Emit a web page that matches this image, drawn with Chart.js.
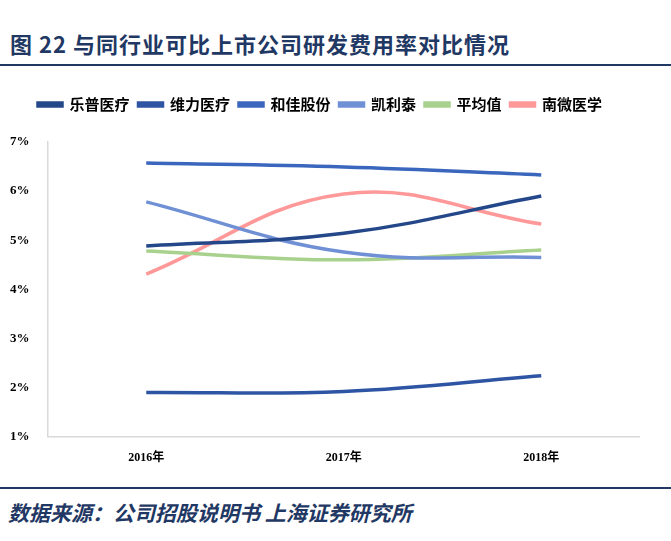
<!DOCTYPE html>
<html><head><meta charset="utf-8">
<script src="https://cdn.jsdelivr.net/npm/chart.js@4"></script>
<style>
body{margin:0;width:671px;height:541px;background:#fff;font-family:"Noto Sans CJK SC",sans-serif;overflow:hidden}
#title{position:absolute;left:10px;top:27px;font-size:22px;font-weight:bold;color:#1F3864;letter-spacing:1px}
#tline{position:absolute;left:0;top:64px;width:671px;border-top:2px solid #1F3864}
#bline{position:absolute;left:0;top:487px;width:671px;border-top:2px solid #1F3864}
#src{position:absolute;left:8px;top:497px;font-size:21px;font-weight:bold;font-style:italic;color:#1F3864}
#wrap{position:absolute;left:0;top:88px;width:640px;height:383px}
</style></head><body>
<div id="title">图 22 与同行业可比上市公司研发费用率对比情况</div>
<div id="tline"></div>
<div id="wrap"><canvas id="c"></canvas></div>
<div id="bline"></div>
<div id="src">数据来源：公司招股说明书  上海证券研究所</div>
<script>
// Data
const years = ['2016年', '2017年', '2018年'];
const lepu = [4.88, 5.14, 5.90];
const weili = [1.90, 1.92, 2.24];
const hejia = [6.57, 6.49, 6.33];
const kailitai = [5.78, 4.76, 4.65];
const average = [4.78, 4.60, 4.80];
const nanwei = [4.31, 5.94, 5.33];

function ds(label, data, color) {
  return {label: label, data: data, borderColor: color, backgroundColor: color,
    borderWidth: 3.5, pointRadius: 0, tension: 0.4, fill: false};
}

new Chart(document.getElementById('c'), {
  type: 'line',
  data: {
    labels: years,
    datasets: [
      ds('乐普医疗', lepu, '#24478A'),
      ds('维力医疗', weili, '#2E55A3'),
      ds('和佳股份', hejia, '#3A66BE'),
      ds('凯利泰', kailitai, '#7090D6'),
      ds('平均值', average, '#A9D18E'),
      ds('南微医学', nanwei, '#FF9999')
    ]
  },
  options: {
    animation: false,
    maintainAspectRatio: false,
    layout: {padding: {left: 0, right: 0}},
    plugins: {
      legend: {
        labels: {boxWidth: 24, boxHeight: 3, padding: 9, color: '#000',
          font: {size: 15, weight: 'bold', family: '"Noto Sans CJK SC"'}},
        padding: 0
      },
      tooltip: {enabled: false}
    },
    scales: {
      x: {
        offset: true,
        grid: {display: false},
        border: {color: '#d9d9d9', width: 1.5},
        ticks: {color: '#000', padding: 6, font: {size: 12, weight: 'bold', family: '"Liberation Serif","Noto Sans CJK SC"'}}
      },
      y: {
        min: 1, max: 7,
        grid: {display: false},
        border: {color: '#d9d9d9', width: 1.5},
        ticks: {stepSize: 1, color: '#000', padding: 10,
          font: {size: 13, weight: 'bold', family: '"Liberation Serif"'},
          callback: v => v + '%'}
      }
    }
  },
  plugins: [{
    id: 'legendGap',
    beforeInit(chart) {
      const fit = chart.legend.fit;
      chart.legend.fit = function () { fit.bind(chart.legend)(); this.height += 20; };
    }
  }]
});
</script>
</body></html>
